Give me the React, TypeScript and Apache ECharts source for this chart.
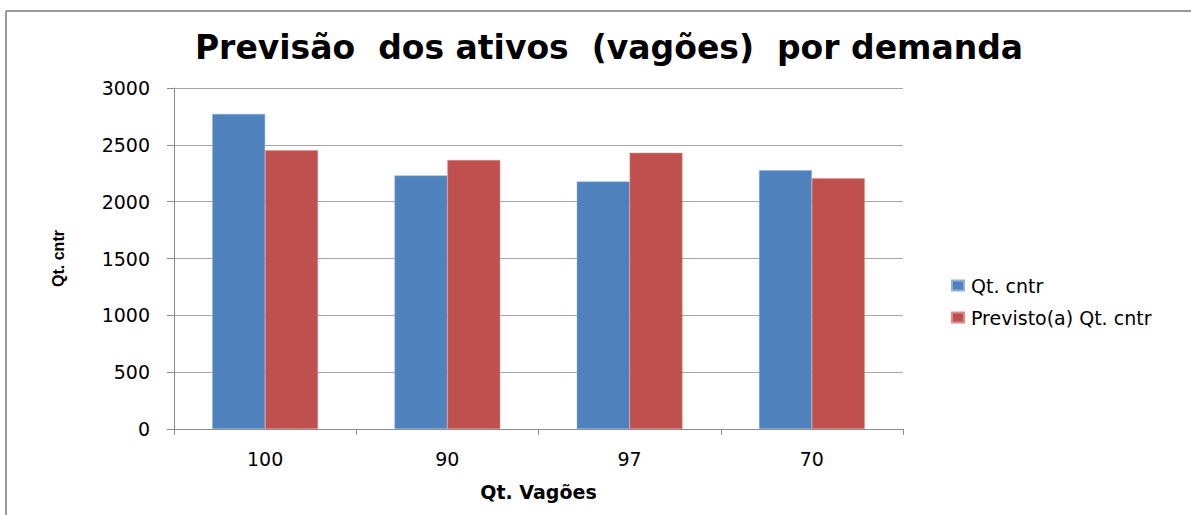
import React, { useEffect, useRef } from "react";
import * as echarts from "echarts";

const categories = ["100", "90", "97", "70"];
const qtCntr = [2772, 2230, 2177, 2276];
const previsto = [2452, 2366, 2430, 2205];
const seriesNames = ["Qt. cntr", "Previsto(a) Qt. cntr"];

export default function App() {
  const ref = useRef<HTMLDivElement>(null);
  useEffect(() => {
    if (!ref.current) return;
    const chart = echarts.init(ref.current, null, { renderer: "svg" });
    chart.setOption({
      animation: false,
      backgroundColor: "#ffffff",
      title: {
        text: "Previsão  dos ativos  (vagões)  por demanda",
        left: 604,
        top: 26,
        textAlign: "center",
        textStyle: {
          fontFamily: "DejaVu Sans",
          fontWeight: "bold",
          fontSize: 33,
          color: "#000000",
        },
      },
      legend: {
        orient: "vertical",
        left: 946,
        top: 271,
        itemWidth: 12,
        itemHeight: 10,
        itemGap: 13,
        icon: "rect",
        textStyle: {
          fontFamily: "DejaVu Sans",
          fontSize: 19,
          color: "#000000",
          padding: [0, 0, 0, 2],
        },
        data: seriesNames,
      },
      graphic: [
        {
          type: "line",
          shape: { x1: 6, y1: 11, x2: 1191, y2: 11 },
          style: { stroke: "#9a9a9a", lineWidth: 2 },
          silent: true,
        },
        {
          type: "line",
          shape: { x1: 6, y1: 11, x2: 6, y2: 515 },
          style: { stroke: "#9a9a9a", lineWidth: 2 },
          silent: true,
        },
      ],
      grid: {
        left: 174,
        right: 288,
        top: 88,
        bottom: 86,
        containLabel: false,
      },
      xAxis: {
        type: "category",
        data: categories,
        name: "Qt. Vagões",
        nameLocation: "middle",
        nameGap: 53,
        nameTextStyle: {
          fontFamily: "DejaVu Sans",
          fontWeight: "bold",
          fontSize: 19,
          color: "#000000",
        },
        axisLine: { lineStyle: { color: "#8c8c8c", width: 1 } },
        axisTick: { show: true, length: 6, lineStyle: { color: "#8c8c8c" } },
        axisLabel: {
          fontFamily: "DejaVu Sans",
          fontSize: 19,
          color: "#000000",
          margin: 20,
        },
      },
      yAxis: {
        type: "value",
        min: 0,
        max: 3000,
        interval: 500,
        name: "Qt. cntr",
        nameLocation: "middle",
        nameGap: 108,
        nameRotate: 90,
        nameTextStyle: {
          fontFamily: "Liberation Sans Narrow, Liberation Sans, sans-serif",
          fontWeight: "bold",
          fontSize: 16,
          color: "#000000",
        },
        axisLine: { show: true, lineStyle: { color: "#8c8c8c", width: 1 } },
        axisTick: { show: true, length: 7, lineStyle: { color: "#8c8c8c" } },
        axisLabel: {
          fontFamily: "DejaVu Sans",
          fontSize: 19,
          color: "#000000",
          margin: 24,
          formatter: (v: number) => String(v),
        },
        splitLine: { show: true, lineStyle: { color: "#a6a6a6", width: 1 } },
      },
      series: [
        {
          name: seriesNames[0],
          type: "bar",
          data: qtCntr,
          barGap: "0%",
          barCategoryGap: "42%",
          itemStyle: { color: "#4F81BD", borderColor: "#8fb0db", borderWidth: 0.5 },
        },
        {
          name: seriesNames[1],
          type: "bar",
          data: previsto,
          itemStyle: { color: "#C0504D", borderColor: "#e08a88", borderWidth: 0.5 },
        },
      ],
    });
    return () => chart.dispose();
  }, []);
  return (
    <div
      ref={ref}
      style={{ position: "absolute", left: 0, top: 0, width: 1191, height: 515 }}
    />
  );
}
